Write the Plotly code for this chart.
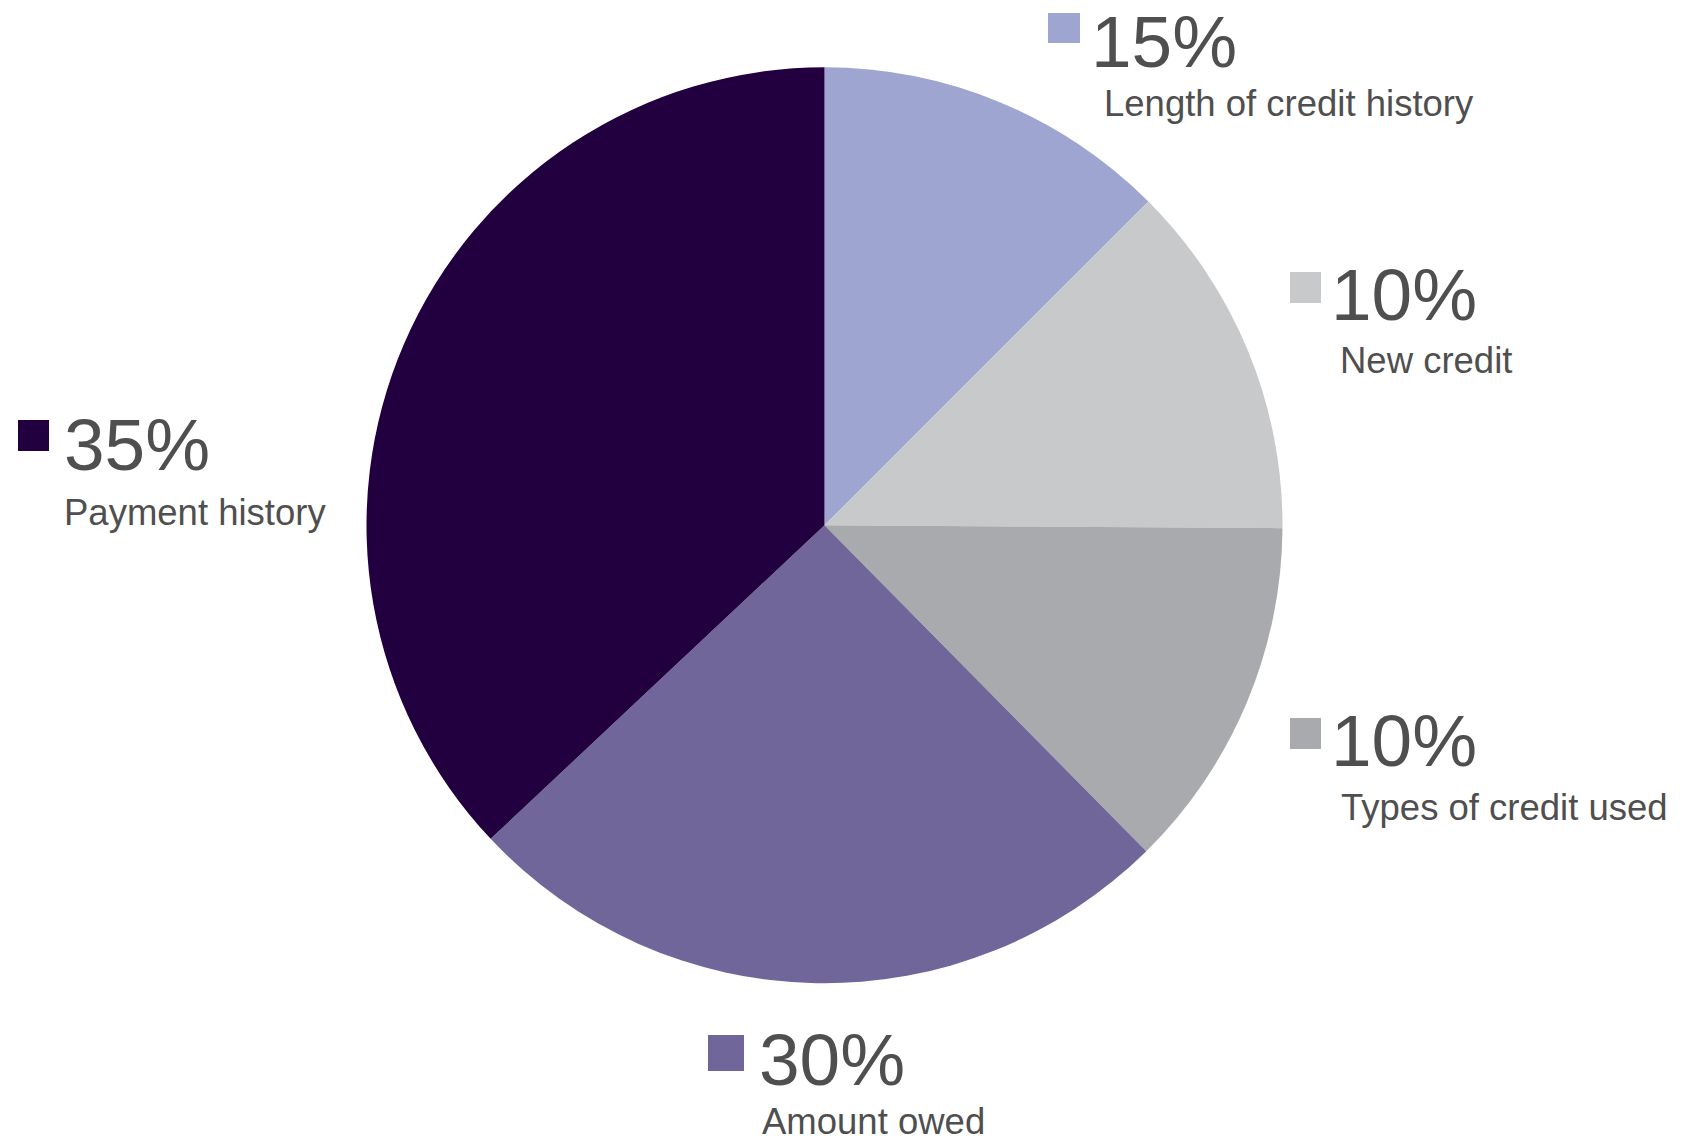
import plotly.graph_objects as go

W, H = 1690, 1143

# Data
categories = ["Length of credit history", "New credit", "Types of credit used", "Amount owed", "Payment history"]
slice_values = [12.5, 12.6, 12.5, 25.4, 37.0]          # slice sizes as drawn
display_pct = ["15%", "10%", "10%", "30%", "35%"]       # labels shown on chart
colors = ["#9EA5D0", "#C8C9CB", "#A9AAAD", "#706699", "#22003F"]

# Label layout (pixel positions): square box, percent text pos, category text pos
# None for y means: anchor to the page edge (top for percent, bottom for category)
label_layout = [
    dict(sq=(1048, 13, 1080, 43), pct=(1090, None), cat=(1103, 104)),
    dict(sq=(1290, 272, 1321, 303), pct=(1330, 294.5), cat=(1339, 360.5)),
    dict(sq=(1290, 718, 1321, 749), pct=(1330, 740.5), cat=(1340, 807.5)),
    dict(sq=(708, 1035, 744, 1071), pct=(758, 1059), cat=(761, None)),
    dict(sq=(18, 420, 49, 451), pct=(63, 444.5), cat=(63, 512)),
]

cx, cy, r = 824.5, 525.3, 458

def px(x):
    return x / W

def py(y):
    return 1 - y / H

fig = go.Figure(go.Pie(
    labels=categories,
    values=slice_values,
    marker=dict(colors=colors, line=dict(width=0)),
    sort=False,
    direction="clockwise",
    rotation=0,
    textinfo="none",
    hoverinfo="label",
    showlegend=False,
    domain=dict(x=[px(cx - r), px(cx + r)], y=[py(cy + r), py(cy - r)]),
))

text_color = "#4F4F4F"
font_family = "Liberation Sans, Arial, sans-serif"
shapes = []
annotations = []
for cat, pct, col, lay in zip(categories, display_pct, colors, label_layout):
    x0, y0, x1, y1 = lay["sq"]
    shapes.append(dict(type="rect", xref="paper", yref="paper",
                       x0=px(x0), x1=px(x1), y0=py(y1), y1=py(y0),
                       fillcolor=col, line=dict(width=0)))
    pxy = lay["pct"]
    if pxy[1] is None:
        ypos, yanc = 1.0, "top"
    else:
        ypos, yanc = py(pxy[1]), "middle"
    annotations.append(dict(text=pct, xref="paper", yref="paper",
                            x=px(pxy[0]), y=ypos,
                            xanchor="left", yanchor=yanc, showarrow=False,
                            borderpad=0,
                            font=dict(family=font_family, size=73, color=text_color)))
    cxy = lay["cat"]
    if cxy[1] is None:
        cy_pos, cy_anc = 0.0, "bottom"
    else:
        cy_pos, cy_anc = py(cxy[1]), "middle"
    annotations.append(dict(text=cat, xref="paper", yref="paper",
                            x=px(cxy[0]), y=cy_pos,
                            xanchor="left", yanchor=cy_anc, showarrow=False,
                            borderpad=0,
                            font=dict(family=font_family, size=36.5, color=text_color)))

fig.update_layout(
    width=W, height=H,
    margin=dict(l=0, r=0, t=0, b=0),
    paper_bgcolor="white",
    plot_bgcolor="white",
    shapes=shapes,
    annotations=annotations,
)

fig.write_html("out.html")
